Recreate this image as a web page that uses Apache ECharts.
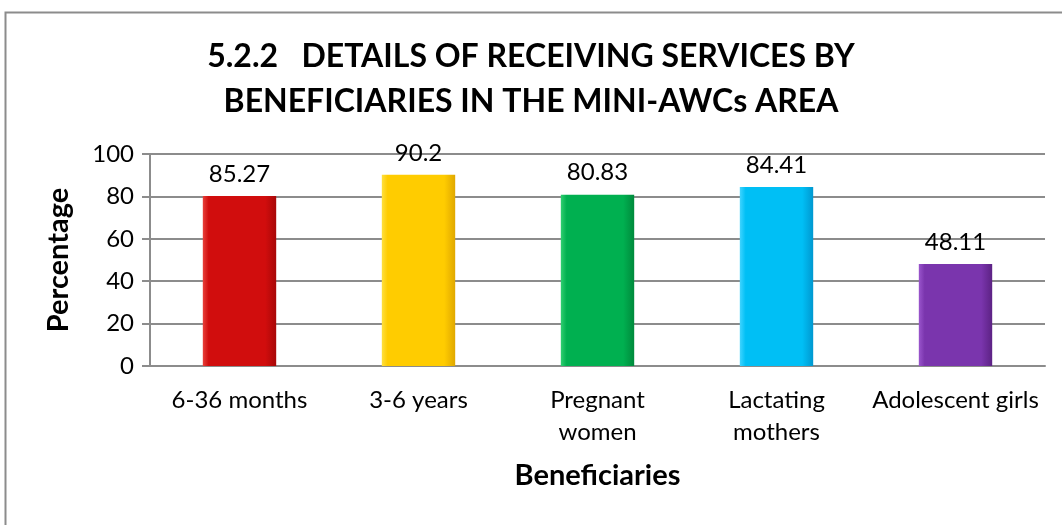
<!DOCTYPE html>
<html>
<head>
<meta charset="utf-8">
<script src="https://cdn.jsdelivr.net/npm/echarts@6/dist/echarts.min.js"></script>
<style>
html,body{margin:0;padding:0;background:#fff;}
#c{width:1062px;height:525px;}
</style>
</head>
<body>
<div id="c"></div>
<script>
var categories = ['6-36 months', '3-6 years', 'Pregnant\nwomen', 'Lactating\nmothers', 'Adolescent girls'];
// bar heights as drawn in the picture
var barValues = [80.2, 90.2, 80.83, 84.41, 48.11];
// data labels as printed on the picture
var barLabels = ['85.27', '90.2', '80.83', '84.41', '48.11'];
var barColors = [
  ['#e8403a', '#d10d0d', '#a80808'],
  ['#ffe040', '#ffcc00', '#e0a800'],
  ['#2fcf70', '#00b050', '#008a3c'],
  ['#40d4ff', '#00bff5', '#0098d0'],
  ['#9a55cc', '#7a35ad', '#5c2284']
];
var yTicks = [0, 20, 40, 60, 80, 100];

var FONT = 'Lato, "Open Sans", sans-serif';
var chart = echarts.init(document.getElementById('c'), null, {renderer: 'canvas'});
var option = {
  animation: false,
  backgroundColor: '#fff',
  graphic: [{
    type: 'rect', left: 3, top: 10,
    shape: {width: 1080, height: 540},
    style: {fill: 'none', stroke: '#8c8c8c', lineWidth: 2},
    silent: true
  }],
  title: {
    text: '5.2.2   DETAILS OF RECEIVING SERVICES BY\nBENEFICIARIES IN THE MINI-AWCs AREA',
    left: 'center', top: 29,
    textStyle: {fontFamily: FONT, fontWeight: 'bold', fontSize: 32, lineHeight: 45, color: '#000'}
  },
  grid: {left: 150, right: 17, top: 154, bottom: 159},
  xAxis: {
    type: 'category',
    data: categories,
    axisLine: {lineStyle: {color: '#8c8c8c', width: 2}},
    axisTick: {show: false},
    axisLabel: {fontFamily: FONT, fontSize: 24, color: '#000', lineHeight: 32, margin: 18, interval: 0},
    name: 'Beneficiaries',
    nameLocation: 'middle',
    nameGap: 95,
    nameTextStyle: {fontFamily: FONT, fontWeight: 'bold', fontSize: 29, color: '#000'}
  },
  yAxis: {
    type: 'value',
    min: 0, max: 100, interval: 20,
    axisLine: {show: true, lineStyle: {color: '#8c8c8c', width: 2}},
    axisTick: {show: true, length: 8, lineStyle: {color: '#8c8c8c', width: 2}},
    splitLine: {lineStyle: {color: '#8c8c8c', width: 2}},
    axisLabel: {fontFamily: FONT, fontSize: 24, color: '#000', margin: 16,
      formatter: function (v) { return yTicks.indexOf(v) >= 0 ? String(v) : ''; }},
    name: 'Percentage',
    nameLocation: 'middle',
    nameGap: 77,
    nameTextStyle: {fontFamily: FONT, fontWeight: 'bold', fontSize: 29, color: '#000'}
  },
  series: [{
    type: 'bar',
    barWidth: '41%',
    data: barValues.map(function (v, i) {
      var c = barColors[i];
      return {
        value: v,
        itemStyle: {
          color: new echarts.graphic.LinearGradient(0, 0, 1, 0, [
            {offset: 0, color: c[0]},
            {offset: 0.08, color: c[1]},
            {offset: 0.85, color: c[1]},
            {offset: 1, color: c[2]}
          ])
        }
      };
    }),
    label: {
      show: true, position: 'top', distance: 10,
      fontFamily: FONT, fontSize: 24, color: '#000',
      formatter: function (p) { return barLabels[p.dataIndex]; }
    }
  }]
};
chart.setOption(option);
</script>
</body>
</html>
